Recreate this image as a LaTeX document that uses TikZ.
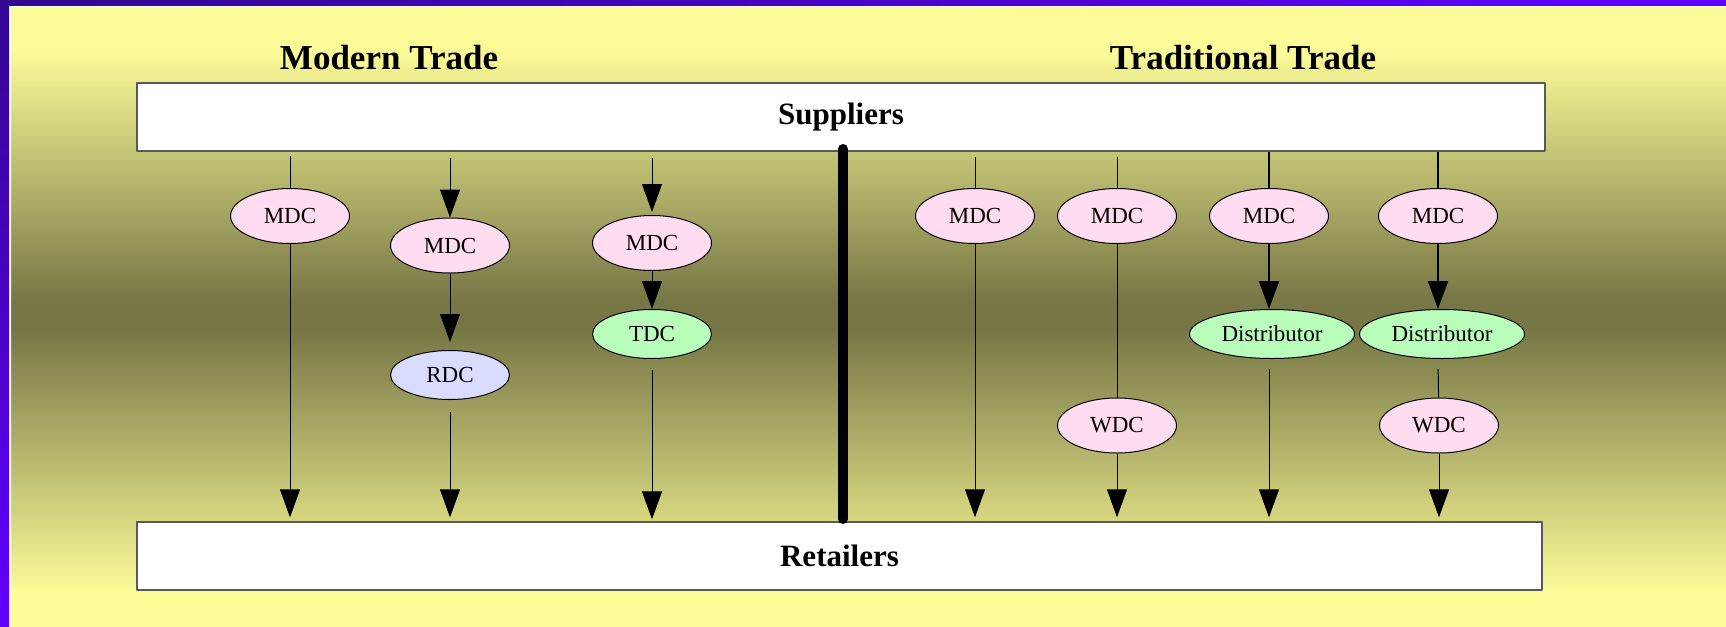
\documentclass[tikz,border=0pt]{standalone}
\usepackage{fontspec}
\setmainfont{Liberation Serif}
\usetikzlibrary{arrows.meta,shapes.geometric}
\definecolor{nen}{HTML}{FBFB98}
\definecolor{toi}{HTML}{777746}
\definecolor{hong}{HTML}{FFDCEF}
\definecolor{tim}{HTML}{D9DBFF}
\definecolor{xanh}{HTML}{B9FDBA}
\definecolor{vienA}{HTML}{33068F}
\definecolor{vienB}{HTML}{6000FF}
\begin{document}
\begin{tikzpicture}[x=0.5pt, y=-0.5pt, line join=round, >={Triangle[length=14pt,width=10pt]},
    dc/.style={ellipse, draw, line width=0.5pt, inner sep=0pt, minimum width=59.5pt, minimum height=27.5pt, font=\fontsize{11.5}{12}\selectfont},
    dcs/.style={dc, minimum height=24.5pt},
    box/.style={draw=black!65, line width=0.7pt, fill=white, inner sep=0pt, font=\fontsize{15.5}{17}\selectfont\bfseries},
    ttl/.style={anchor=base, font=\fontsize{17.5}{20}\selectfont\bfseries},
    ln/.style={line width=0.5pt}, lnb/.style={line width=1pt}]
    \useasboundingbox (0,0) rectangle (1726,627);
    % nen
    \fill[nen] (0,0) rectangle (1726,627);
    \shade[top color=nen, bottom color=toi] (11,50) rectangle (1726,300);
    \fill[toi] (11,300) rectangle (1726,330);
    \shade[top color=toi, bottom color=nen] (11,330) rectangle (1726,592);
    \fill[white] (0,0) rectangle (1726,7) (0,0) rectangle (11,627);
    \shade[left color=vienA, right color=vienB] (0,0) rectangle (1726,5);
    \shade[top color=vienA, bottom color=vienB] (0,0) rectangle (9,627);
    % tieu de
    \node[ttl] (mt) at (389,69) {Modern Trade};
    \node[ttl] (tt) at (1243,69) {Traditional Trade};
    \node[box, minimum width=704pt, minimum height=34pt] (sup) at (841,117) {Suppliers};
    \node[box, minimum width=702.5pt, minimum height=34pt] (ret) at (839.5,556) {Retailers};
    \draw[line width=5pt, line cap=round] (843,149) -- (843,519);
    % modern trade
    \node[dc, fill=hong] (m1) at (290,216) {MDC};
    \node[dc, fill=hong] (m2) at (450,245.5) {MDC};
    \node[dcs, fill=tim] (r1) at (450,375) {RDC};
    \node[dc, fill=hong] (m3) at (652,243) {MDC};
    \node[dcs, fill=xanh] (t1) at (652,334) {TDC};
    % traditional trade
    \foreach \x/\ten in {975/m4, 1117/m5, 1269/m6, 1438/m7} \node[dc, fill=hong] (\ten) at (\x,216) {MDC};
    \node[dcs, fill=xanh, minimum width=82.5pt] (d1) at (1272,334) {Distributor};
    \node[dcs, fill=xanh, minimum width=82.5pt] (d2) at (1442,334) {Distributor};
    \node[dc, fill=hong] (w1) at (1117,425.5) {WDC};
    \node[dc, fill=hong] (w2) at (1439,425.5) {WDC};
    % luong hang
    \draw[ln, shorten <=2pt] (m1 |- sup.south) -- (m1);
    \draw[ln, ->, shorten >=2pt] (m1) -- (m1 |- ret.north);
    \draw[ln, ->, shorten <=3pt] (m2 |- sup.south) -- (m2);
    \draw[ln, ->, shorten >=4pt] (m2) -- (r1);
    \draw[ln, ->, shorten <=6pt, shorten >=2pt] (r1) -- (r1 |- ret.north);
    \draw[ln, ->, shorten <=3pt, shorten >=1.5pt] (m3 |- sup.south) -- (m3);
    \draw[ln, ->] (m3) -- (t1);
    \draw[ln, ->, shorten <=5.5pt, shorten >=1pt] (t1) -- (t1 |- ret.north);
    \draw[ln, shorten <=2.5pt] (m4 |- sup.south) -- (m4);
    \draw[ln, ->, shorten >=2pt] (m4) -- (m4 |- ret.north);
    \draw[ln, shorten <=2.5pt] (m5 |- sup.south) -- (m5);
    \draw[ln] (m5) -- (w1);
    \draw[ln, ->, shorten >=2pt] (w1) -- (w1 |- ret.north);
    \draw[lnb] (m6 |- sup.south) -- (m6);
    \draw[lnb, ->] (m6) -- (m6 |- d1.north);
    \draw[ln, ->, shorten <=5pt, shorten >=2pt] (d1.south -| m6) -- (m6 |- ret.north);
    \draw[lnb] (m7 |- sup.south) -- (m7);
    \draw[lnb, ->] (m7) -- (m7 |- d2.north);
    \draw[ln, shorten <=5pt] (d2.south -| m7) -- (w2);
    \draw[ln, ->, shorten >=2pt] (w2) -- (w2 |- ret.north);
\end{tikzpicture}
\end{document}
